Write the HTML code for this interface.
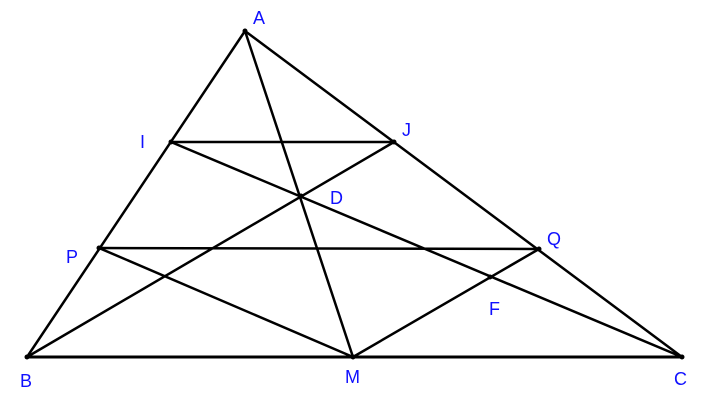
<!DOCTYPE html>
<html><head><style>html,body{margin:0;padding:0;background:#fff;}</style></head>
<body>
<svg width="706" height="404" xmlns="http://www.w3.org/2000/svg" style="display:block">
<g stroke="#000" stroke-width="2.5" fill="none" stroke-linecap="round">
<line x1="245" y1="31" x2="27" y2="357"/>
<line x1="245" y1="31" x2="682" y2="357"/>
<line x1="27" y1="357" x2="682" y2="357" stroke-width="3"/>
<line x1="245" y1="31" x2="353" y2="357"/>
<line x1="171" y1="142" x2="394" y2="142"/>
<line x1="99" y1="248" x2="539" y2="249"/>
<line x1="27" y1="357" x2="394" y2="142"/>
<line x1="171" y1="142" x2="682" y2="357"/>
<line x1="99" y1="248" x2="353" y2="357"/>
<line x1="353" y1="357" x2="539" y2="249"/>
</g>
<g fill="#000">
<circle cx="245" cy="31" r="2.5"/><circle cx="27" cy="357" r="2.5"/><circle cx="682" cy="357" r="2.5"/>
<circle cx="353" cy="357" r="2.5"/><circle cx="171" cy="142" r="2.5"/><circle cx="394" cy="142" r="2.5"/>
<circle cx="99" cy="248" r="2.5"/><circle cx="539" cy="249" r="2.5"/><circle cx="301" cy="196" r="2.5"/><circle cx="490" cy="277" r="2.5"/>
</g>
<g fill="#1010ff" font-family="Liberation Sans, sans-serif" font-size="18">
<text x="253" y="24">A</text>
<text x="20" y="387">B</text>
<text x="674" y="385">C</text>
<text x="345" y="383">M</text>
<text x="140" y="148">I</text>
<text x="402" y="136">J</text>
<text x="330" y="204">D</text>
<text x="66" y="263">P</text>
<text x="547" y="245">Q</text>
<text x="489" y="315">F</text>
</g>
</svg>
</body></html>
